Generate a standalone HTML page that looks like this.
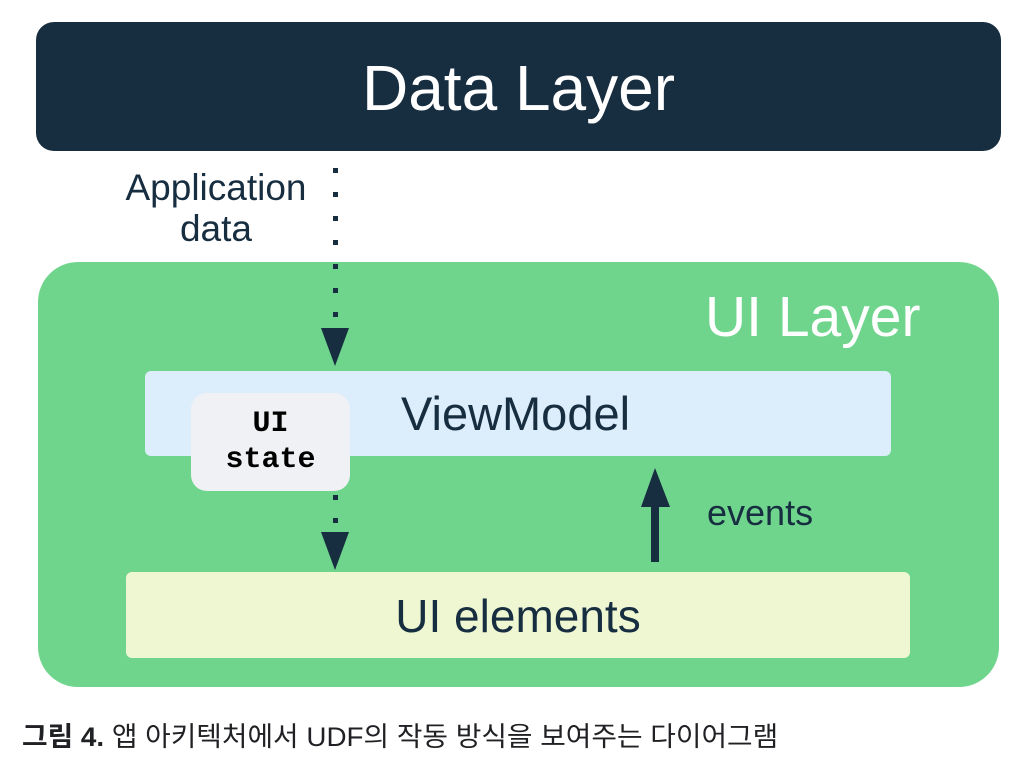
<!DOCTYPE html>
<html><head><meta charset="utf-8"><style>
body{margin:0;background:#fff;width:1036px;height:768px;overflow:hidden;position:relative;font-family:"Liberation Sans",sans-serif;color:#172d40}
.a{position:absolute;box-sizing:border-box}
</style></head><body>
<div class="a" style="left:36px;top:22px;width:965px;height:129px;background:#172d40;border-radius:18px;color:#fff;font-size:64px;text-align:center;line-height:132px">Data Layer</div>
<div class="a" style="left:86px;top:167px;width:260px;text-align:center;font-size:37px;line-height:41px">Application<br>data</div>
<div class="a" style="left:38px;top:262px;width:961px;height:425px;background:#6fd58d;border-radius:40px"></div>
<div class="a" style="left:705px;top:282px;width:260px;font-size:57px;color:#fff;line-height:70px;white-space:nowrap">UI Layer</div>
<div class="a" style="left:145px;top:371px;width:746px;height:85px;background:#dcedfb;border-radius:6px;font-size:47px;line-height:85px;padding-left:256px">ViewModel</div>
<div class="a" style="left:191px;top:393px;width:159px;height:98px;background:#f0f1f4;border-radius:16px;font-family:'Liberation Mono',monospace;font-weight:bold;font-size:30px;line-height:36px;text-align:center;padding-top:13px;color:#000">UI<br>state</div>
<div class="a" style="left:126px;top:572px;width:784px;height:86px;background:#eff7d2;border-radius:6px;font-size:46px;line-height:88px;text-align:center">UI elements</div>
<div class="a" style="left:707px;top:492px;font-size:36px;line-height:42px">events</div>
<svg class="a" style="left:0;top:0" width="1036" height="768">
<g fill="#172d40">
<rect x="333" y="168" width="5" height="5"/><rect x="333" y="192" width="5" height="5"/><rect x="333" y="216" width="5" height="5"/><rect x="333" y="240" width="5" height="5"/><rect x="333" y="264" width="5" height="5"/><rect x="333" y="288" width="5" height="5"/><rect x="333" y="312" width="5" height="5"/>
<polygon points="321,328 349,328 335,366"/>
<rect x="333" y="495" width="5" height="5"/><rect x="333" y="518" width="5" height="5"/>
<polygon points="321,532 349,532 335,570"/>
<polygon points="641,507 670,507 655,468"/>
<rect x="651" y="505" width="8" height="57"/>
</g></svg>
<div class="a" style="left:22px;top:720px;font-family:'Liberation Sans','Noto Sans CJK KR',sans-serif;font-size:27px;line-height:34px;color:#202124;white-space:nowrap;transform:scaleX(1.03);transform-origin:left"><b>그림 4.</b> 앱 아키텍처에서 UDF의 작동 방식을 보여주는 다이어그램</div>
</body></html>
